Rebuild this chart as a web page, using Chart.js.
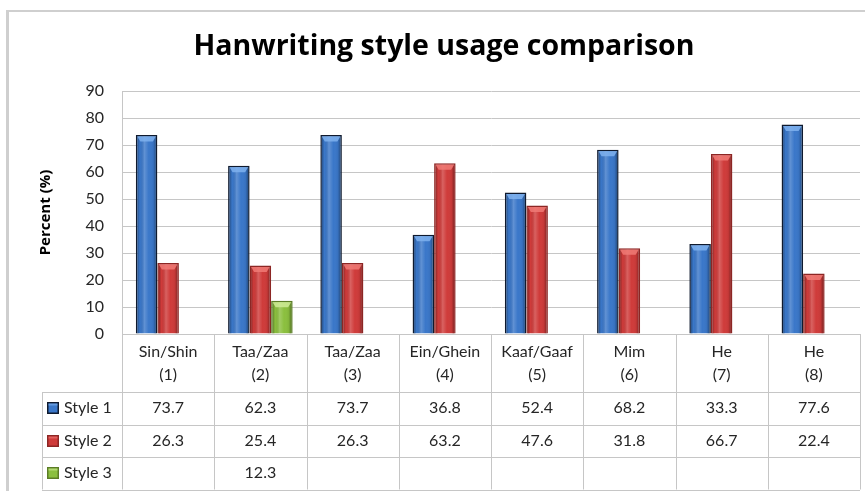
<!DOCTYPE html>
<html>
<head>
<meta charset="utf-8">
<script src="https://cdn.jsdelivr.net/npm/chart.js@4.4.1/dist/chart.umd.min.js"></script>
<style>
  html, body { margin: 0; padding: 0; background: #fff; overflow: hidden; }
  #wrap { position: relative; width: 865px; height: 491px; }
  #frame {
    position: absolute; left: 6px; top: 10px; width: 900px; height: 600px;
    border-left: 3px solid #cfcfcf; border-top: 2px solid #cfcfcf; box-sizing: border-box;
  }
  canvas { position: absolute; left: 0; top: 0; }
</style>
</head>
<body>
<div id="wrap">
  <div id="frame"></div>
  <canvas id="c" width="865" height="491"></canvas>
</div>
<script>
// Letter groups on the x axis (two-line labels)
const categories = [
  ["Sin/Shin", "(1)"],
  ["Taa/Zaa", "(2)"],
  ["Taa/Zaa", "(3)"],
  ["Ein/Ghein", "(4)"],
  ["Kaaf/Gaaf", "(5)"],
  ["Mim", "(6)"],
  ["He", "(7)"],
  ["He", "(8)"]
];
const seriesNames = ["Style 1", "Style 2", "Style 3"];
const style1 = [73.7, 62.3, 73.7, 36.8, 52.4, 68.2, 33.3, 77.6];
const style2 = [26.3, 25.4, 26.3, 63.2, 47.6, 31.8, 66.7, 22.4];
const style3 = [null, 12.3, null, null, null, null, null, null];
const yMin = 0, yMax = 90, yStep = 10;

const FONT = "Lato, 'Open Sans', sans-serif";
const TITLE_FONT = "'Open Sans', Lato, sans-serif";
const TEXT = "#262626";
const LINE = "#c6c6c6";

const palettes = [
  { fill: "#3a77c9", border: "#0f1a2e", light: "#7fb2ee" },
  { fill: "#cf3b3a", border: "#8c2624", light: "#f07a76" },
  { fill: "#8bbf3e", border: "#5b7c25", light: "#cfeb97" }
];
const seriesValues = [style1, style2, style3];

// Glossy shading drawn over each bar, using the element geometry from Chart.js
const barShading = {
  id: "barShading",
  afterDatasetsDraw(chart) {
    const ctx = chart.ctx;
    chart.data.datasets.forEach((ds, di) => {
      const meta = chart.getDatasetMeta(di);
      const bw = ds.borderWidth;
      meta.data.forEach((el, i) => {
        if (ds.data[i] === null || ds.data[i] === undefined) return;
        const p = el.getProps(["x", "y", "base", "width"], true);
        const l = p.x - p.width / 2 + bw, r = p.x + p.width / 2 - bw;
        const t = Math.min(p.y, p.base) + bw, b = Math.max(p.y, p.base);
        const w = r - l;
        if (w <= 0 || b <= t) return;
        ctx.save();
        const g = ctx.createLinearGradient(l, 0, r, 0);
        g.addColorStop(0, "rgba(0,0,0,0.30)");
        g.addColorStop(0.14, "rgba(0,0,0,0.0)");
        g.addColorStop(0.38, "rgba(255,255,255,0.20)");
        g.addColorStop(0.62, "rgba(255,255,255,0.0)");
        g.addColorStop(0.86, "rgba(0,0,0,0.05)");
        g.addColorStop(1, "rgba(0,0,0,0.32)");
        ctx.fillStyle = g;
        ctx.fillRect(l, t, w, b - t);
        // bevelled cap
        const cap = Math.min(5, (b - t) / 2);
        ctx.beginPath();
        ctx.moveTo(l, t);
        ctx.lineTo(r, t);
        ctx.lineTo(r - 3, t + cap);
        ctx.lineTo(l + 3, t + cap);
        ctx.closePath();
        ctx.fillStyle = palettes[di].light;
        ctx.globalAlpha = 0.85;
        ctx.fill();
        ctx.restore();
      });
    });
  }
};

// Data table under the plot: category columns follow the x scale
const dataTable = {
  id: "dataTable",
  afterDraw(chart) {
    const ctx = chart.ctx;
    const xs = chart.scales.x;
    const area = chart.chartArea;
    const n = categories.length;
    const catW = (xs.right - xs.left) / n;
    const tableLeft = 42;
    const headerBottom = area.bottom + 58;
    const rowH = 32.5;
    const tableBottom = headerBottom + rowH * seriesNames.length;
    const px = v => Math.round(v) + 0.5;

    ctx.save();
    ctx.strokeStyle = LINE;
    ctx.lineWidth = 1;
    ctx.beginPath();
    // y axis line carried down through the table
    ctx.moveTo(px(area.left), area.top);
    ctx.lineTo(px(area.left), tableBottom);
    // column separators
    for (let i = 1; i <= n; i++) {
      const x = px(xs.left + i * catW);
      ctx.moveTo(x, area.bottom);
      ctx.lineTo(x, tableBottom);
    }
    ctx.moveTo(px(tableLeft), headerBottom);
    ctx.lineTo(px(tableLeft), tableBottom);
    // row separators
    for (let r = 0; r <= seriesNames.length; r++) {
      const y = px(headerBottom + r * rowH);
      ctx.moveTo(tableLeft, y);
      ctx.lineTo(xs.right, y);
    }
    ctx.stroke();

    ctx.font = "16px " + FONT;
    ctx.fillStyle = TEXT;
    ctx.textBaseline = "middle";
    seriesNames.forEach((name, r) => {
      const cy = headerBottom + r * rowH + rowH / 2;
      // legend key
      const pal = palettes[r];
      ctx.fillStyle = pal.border;
      ctx.fillRect(47, Math.round(cy - 6), 12, 12);
      ctx.fillStyle = pal.fill;
      ctx.fillRect(48.5, Math.round(cy - 6) + 1.5, 9, 9);
      ctx.fillStyle = pal.light;
      ctx.globalAlpha = 0.6;
      ctx.fillRect(48.5, Math.round(cy - 6) + 1.5, 9, 2);
      ctx.globalAlpha = 1;
      ctx.fillStyle = TEXT;
      ctx.textAlign = "left";
      ctx.fillText(name, 64, cy);
      ctx.textAlign = "center";
      seriesValues[r].forEach((v, i) => {
        if (v === null || v === undefined) return;
        ctx.fillText(v.toFixed(1), xs.left + (i + 0.5) * catW, cy);
      });
    });
    ctx.restore();
  }
};

const datasets = seriesNames.map((name, i) => ({
  label: name,
  data: seriesValues[i],
  backgroundColor: palettes[i].fill,
  borderColor: palettes[i].border,
  borderWidth: 1.5,
  borderSkipped: "bottom",
  categoryPercentage: 0.7,
  barPercentage: 1.0
}));

new Chart(document.getElementById("c"), {
  type: "bar",
  data: { labels: categories, datasets },
  options: {
    responsive: false,
    devicePixelRatio: 1,
    animation: false,
    layout: { padding: { left: 28, right: 5, top: 0, bottom: 0 } },
    plugins: {
      legend: { display: false },
      tooltip: { enabled: false },
      title: {
        display: true,
        text: "Hanwriting style usage comparison",
        color: "#000",
        font: { family: TITLE_FONT, size: 28.5, weight: "bold", lineHeight: 1.2 },
        padding: { top: 30, bottom: 26.8 }
      }
    },
    scales: {
      x: {
        grid: { display: false, drawTicks: false },
        border: { display: false },
        ticks: {
          color: TEXT,
          font: { family: FONT, size: 16, lineHeight: "23px" },
          padding: 6.5,
          maxRotation: 0,
          autoSkip: false
        },
        afterFit: s => { s.height = 157; }
      },
      y: {
        min: yMin,
        max: yMax,
        grid: { color: LINE, drawTicks: false },
        border: { display: true, color: LINE },
        ticks: {
          stepSize: yStep,
          color: TEXT,
          font: { family: FONT, size: 16 },
          padding: 18
        },
        title: {
          display: true,
          text: "Percent (%)",
          color: "#000",
          font: { family: TITLE_FONT, size: 15, weight: "bold" },
          padding: { top: 8.5, bottom: 0 }
        },
        afterFit: s => { s.width = 94; }
      }
    }
  },
  plugins: [barShading, dataTable]
});
</script>
</body>
</html>
